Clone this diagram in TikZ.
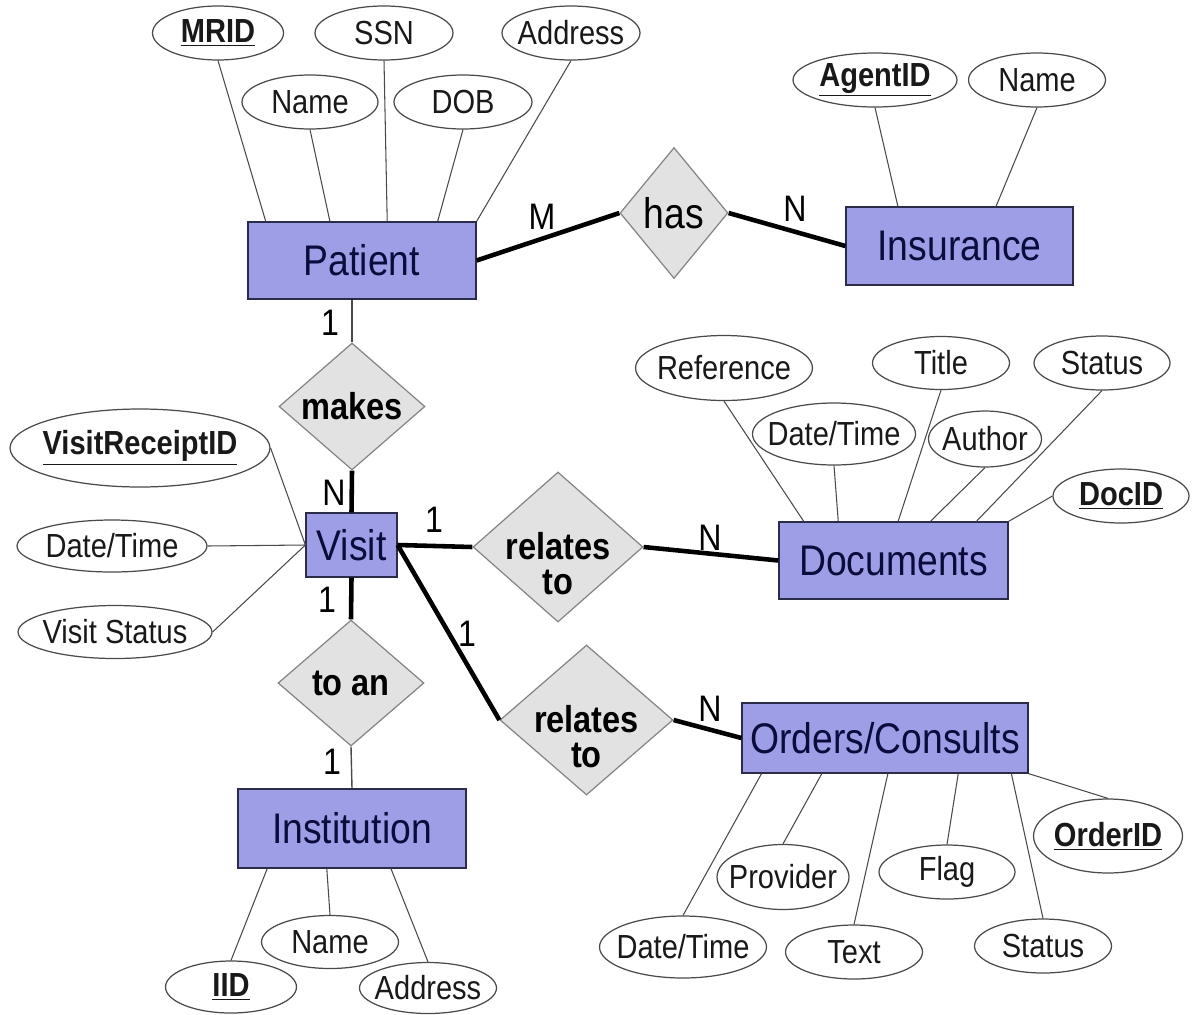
\documentclass[tikz,border=0pt]{standalone}
\usepackage{fontspec}
\setmainfont[FakeStretch=0.87]{Liberation Sans}
\usepackage{tikz}
\usetikzlibrary{shapes.geometric,calc}
\definecolor{EntFill}{HTML}{9E9EE6}
\definecolor{EntLine}{HTML}{2B2B4A}
\definecolor{EntText}{HTML}{0C0C3C}
\definecolor{RelFill}{HTML}{E2E2E2}
\definecolor{RelLine}{HTML}{858585}
\definecolor{AttrLine}{HTML}{4A4A4A}
\tikzset{
  entity/.style={draw=EntLine,fill=EntFill,text=EntText,line width=0.7pt,inner sep=0pt,font=\fontsize{24.4}{28}\selectfont},
  relship/.style={diamond,draw=RelLine,fill=RelFill,line width=0.7pt,inner sep=-12pt,align=center,font=\fontsize{21.3}{20}\selectfont\bfseries},
  attr/.style={ellipse,draw=AttrLine,fill=white,line width=0.7pt,inner sep=-5pt,minimum width=2.74cm,minimum height=1.08cm,text=black!90,font=\fontsize{19}{22}\selectfont},
  keyattr/.style={attr,font=\fontsize{19}{22}\selectfont\bfseries},
  card/.style={inner sep=0pt,font=\fontsize{21}{24}\selectfont},
  attrline/.style={draw=AttrLine,line width=0.6pt},
  relline/.style={draw=black,line width=2.6pt},
  thinline/.style={draw=AttrLine,line width=0.8pt}
}
\begin{document}
\begin{tikzpicture}[x=0.02cm,y=-0.02cm]
  \useasboundingbox (0,0) rectangle (1192,1014);
  % entities
  \node[entity,minimum width=4.56cm,minimum height=1.54cm] (patient) at (362,260.5) {Patient};
  \node[entity,minimum width=4.54cm,minimum height=1.56cm] (insurance) at (959.5,246) {Insurance};
  \node[entity,minimum width=1.82cm,minimum height=1.28cm] (visit) at (351.5,545) {Visit};
  \node[entity,minimum width=4.58cm,minimum height=1.54cm] (documents) at (893.5,560.5) {Documents};
  \node[entity,minimum width=4.56cm,minimum height=1.58cm] (institution) at (352,828.5) {Institution};
  \node[entity,minimum width=5.72cm,minimum height=1.40cm] (orders) at (885,738) {Orders/Consults};
  % relationships
  \node[relship,font=\fontsize{24.4}{28}\selectfont,minimum width=2.16cm,minimum height=2.62cm] (has) at (674,213) {has};
  \node[relship,minimum width=2.92cm,minimum height=2.54cm] (makes) at (352,406.5) {makes};
  \node[relship,minimum width=2.92cm,minimum height=2.52cm] (toan) at (351,683) {to an};
  \node[relship,minimum width=3.40cm,minimum height=3.00cm] (reldoc) at (558,547) {\rule{0pt}{34pt}relates\\to};
  \node[relship,minimum width=3.46cm,minimum height=3.00cm] (relord) at (586.5,720) {\rule{0pt}{34pt}relates\\to};
  % patient attributes
  \node[keyattr,minimum width=2.62cm] (pmrid) at (218,33) {\underline{MRID}};
  \node[attr,minimum width=2.76cm] (pssn) at (384,33) {SSN};
  \node[attr,minimum width=2.76cm] (paddr) at (571,33) {Address};
  \node[attr,minimum width=2.72cm] (pname) at (310,102) {Name};
  \node[attr,minimum width=2.76cm] (pdob) at (463,102) {DOB};
  % insurance attributes
  \node[keyattr,minimum width=3.28cm] (iagent) at (875,80) {\underline{AgentID}};
  \node[attr] (iname) at (1037,80) {Name};
  % visit attributes
  \node[keyattr,minimum width=5.20cm,minimum height=1.56cm] (vrid) at (140,448) {\underline{VisitReceiptID}};
  \node[attr,minimum width=3.80cm,minimum height=1.04cm] (vdate) at (112,546) {Date/Time};
  \node[attr,minimum width=3.88cm,minimum height=1.06cm] (vstatus) at (115,632) {Visit Status};
  % document attributes
  \node[attr,minimum width=3.54cm,minimum height=1.30cm] (dref) at (724,368) {Reference};
  \node[attr,minimum height=1.06cm] (dtitle) at (941,363) {Title};
  \node[attr,minimum width=2.72cm] (dstatus) at (1102,363) {Status};
  \node[attr,minimum width=3.24cm,minimum height=1.24cm] (ddate) at (834,434) {Date/Time};
  \node[attr,minimum width=2.26cm,minimum height=1.12cm] (dauthor) at (985,439) {Author};
  \node[keyattr,minimum width=2.72cm] (ddocid) at (1121,496) {\underline{DocID}};
  % institution attributes
  \node[keyattr,minimum width=2.62cm,minimum height=1.04cm] (niid) at (231,987) {\underline{IID}};
  \node[attr,minimum height=1.06cm] (nname) at (330,942) {Name};
  \node[attr,minimum height=1.02cm] (naddr) at (428,988) {Address};
  % order attributes
  \node[attr,minimum width=3.34cm,minimum height=1.24cm] (odate) at (683,947) {Date/Time};
  \node[attr,minimum width=2.64cm,minimum height=1.30cm] (oprov) at (783,877) {Provider};
  \node[attr] (otext) at (854,952) {Text};
  \node[attr,minimum width=2.72cm] (oflag) at (947,872) {Flag};
  \node[attr] (ostatus) at (1043,946) {Status};
  \node[keyattr,minimum width=2.98cm,minimum height=1.48cm] (oid) at (1108,836) {\underline{OrderID}};
  % attribute lines
  \draw[attrline] (pmrid.south) -- ($(patient.north west)!.08!(patient.north east)$);
  \draw[attrline] (pname.south) -- ($(patient.north west)!.36!(patient.north east)$);
  \draw[attrline] (pssn.south) -- ($(patient.north west)!.61!(patient.north east)$);
  \draw[attrline] (pdob.south) -- ($(patient.north west)!.83!(patient.north east)$);
  \draw[attrline] (paddr.south) -- (patient.north east);
  \draw[attrline] (iagent.south) -- ($(insurance.north west)!.23!(insurance.north east)$);
  \draw[attrline] (iname.south) -- ($(insurance.north west)!.66!(insurance.north east)$);
  \draw[attrline] (vrid.east) -- (visit.west);
  \draw[attrline] (vdate.east) -- (visit.west);
  \draw[attrline] (vstatus.east) -- (visit.west);
  \draw[attrline] (dref.south) -- ($(documents.north west)!.11!(documents.north east)$);
  \draw[attrline] (ddate.south) -- ($(documents.north west)!.26!(documents.north east)$);
  \draw[attrline] (dtitle.south) -- ($(documents.north west)!.52!(documents.north east)$);
  \draw[attrline] (dauthor.south) -- ($(documents.north west)!.66!(documents.north east)$);
  \draw[attrline] (dstatus.south) -- ($(documents.north west)!.86!(documents.north east)$);
  \draw[attrline] (ddocid.west) -- (documents.north east);
  \draw[attrline] (niid.north) -- ($(institution.south west)!.13!(institution.south east)$);
  \draw[attrline] (nname.north) -- ($(institution.south west)!.39!(institution.south east)$);
  \draw[attrline] (naddr.north) -- ($(institution.south west)!.67!(institution.south east)$);
  \draw[attrline] (odate.north) -- ($(orders.south west)!.07!(orders.south east)$);
  \draw[attrline] (oprov.north) -- ($(orders.south west)!.28!(orders.south east)$);
  \draw[attrline] (otext.north) -- ($(orders.south west)!.51!(orders.south east)$);
  \draw[attrline] (oflag.north) -- ($(orders.south west)!.755!(orders.south east)$);
  \draw[attrline] (ostatus.north) -- ($(orders.south west)!.94!(orders.south east)$);
  \draw[attrline] (oid.north) -- (orders.south east);
  % relationship lines
  \draw[relline] (patient.east) -- (has.west);
  \draw[relline] (has.east) -- (insurance.west);
  \draw[thinline] (makes.north |- patient.south) -- (makes.north);
  \draw[relline] (makes.south) -- (visit.north);
  \draw[relline] (visit.south) -- (toan.north);
  \draw[thinline] (toan.south) -- (institution.north);
  \draw[relline] (visit.east) -- (reldoc.west);
  \draw[relline] (reldoc.east) -- (documents.west);
  \draw[relline] (visit.east) -- (relord.west);
  \draw[relline] (relord.east) -- (orders.west);
  % cardinalities
  \node[card] (cPatHas) at (542,217) {M};
  \node[card] (cHasIns) at (795,209) {N};
  \node[card] (cPatMak) at (330,323) {1};
  \node[card] (cMakVis) at (334,493) {N};
  \node[card] (cVisTo) at (327,600) {1};
  \node[card] (cToIns) at (332,762) {1};
  \node[card] (cVisDoc) at (434,520) {1};
  \node[card] (cRelDoc) at (710,538) {N};
  \node[card] (cVisOrd) at (467,634) {1};
  \node[card] (cRelOrd) at (710,709) {N};
\end{tikzpicture}
\end{document}
